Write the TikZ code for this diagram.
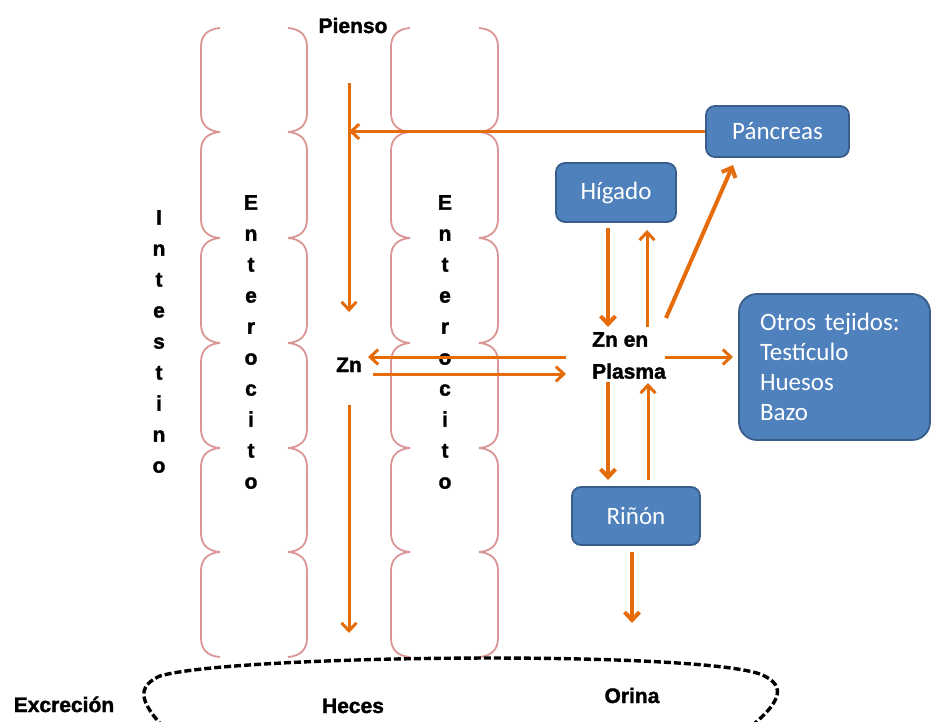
\documentclass[tikz,border=0pt]{standalone}
\usepackage{fontspec}
\setmainfont{Liberation Sans}[BoldFeatures={FakeBold=1.6}]
\newfontfamily\organfont{Carlito}
\usetikzlibrary{arrows.meta}

\definecolor{flowor}{HTML}{E46C0A}
\definecolor{cellpink}{HTML}{D99694}
\definecolor{organfill}{HTML}{4F81BD}
\definecolor{organline}{HTML}{385D8A}

\tikzset{
  flow/.style={draw=flowor, line width=3pt,
    -{Straight Barb[length=8pt,width=15pt]}},
  heavyflow/.style={flow, line width=4pt},
  organ/.style={draw=organline, fill=organfill, line width=1.8pt,
    rounded corners=9pt, text=white, inner sep=0pt,
    font=\organfont\fontsize{25}{30}\selectfont},
  tag/.style={font=\bfseries\fontsize{21}{25}\selectfont,
    inner sep=0pt, anchor=base},
  vword/.style={font=\bfseries\fontsize{21}{31}\selectfont,
    align=center, inner sep=0pt},
  cellwall/.style={draw=cellpink, line width=1.8pt},
  excretion/.style={draw=black, line width=3.4pt,
    dash pattern=on 7pt off 3pt},
}

\begin{document}
\begin{tikzpicture}[x=1pt,y=-1pt]
\useasboundingbox (0,0) rectangle (931,722);

% enterocyte columns: chains of cells with inward-pointing cusps
\foreach \xl/\xr in {201/307, 391/498}{
  \foreach \ya/\yb in {28/132, 132/238, 238/343, 343/448, 448/552, 552/657}{
    \draw[cellwall] ({\xl+19},\ya) .. controls ({\xl+6},{\ya+1}) and (\xl,{\ya+8})
      .. (\xl,{\ya+19}) -- (\xl,{\yb-19})
      .. controls (\xl,{\yb-8}) and ({\xl+6},{\yb-1}) .. ({\xl+19},\yb);
    \draw[cellwall] ({\xr-19},\ya) .. controls ({\xr-6},{\ya+1}) and (\xr,{\ya+8})
      .. (\xr,{\ya+19}) -- (\xr,{\yb-19})
      .. controls (\xr,{\yb-8}) and ({\xr-6},{\yb-1}) .. ({\xr-19},\yb);
  }
}

% vertical words
\node[vword] (intestino) at (159,341.5) {I\\n\\t\\e\\s\\t\\i\\n\\o};
\node[vword] (enteroL) at (251,342) {E\\n\\t\\e\\r\\o\\c\\i\\t\\o};
\node[vword] (enteroR) at (445,342) {E\\n\\t\\e\\r\\o\\c\\i\\t\\o};

% labels
\node[tag] (pienso) at (353,33) {Pienso};
\node[tag] (zn) at (349,372) {Zn};
\node[font=\bfseries\fontsize{21}{32}\selectfont, align=left, inner sep=0pt,
  anchor=north west] (plasma) at (592,332) {Zn en\\Plasma};
\node[tag] (excrecion) at (64,712) {Excreción};
\node[tag] (heces) at (353,713) {Heces};
\node[tag] (orina) at (632,703) {Orina};

% organs
\node[organ, minimum width=143pt, minimum height=51pt] (pancreas)
  at (777.5,131.5) {Páncreas};
\node[organ, minimum width=120pt, minimum height=59pt] (higado)
  at (616,192.5) {Hígado};
\node[organ, minimum width=128pt, minimum height=58pt] (rinon)
  at (636,516) {Riñón};
\node[organ, rounded corners=18pt, minimum height=146pt, text width=149pt,
  inner xsep=21pt, align=left] (otros)
  at (834.5,367) {Otros tejidos:\\Testículo\\Huesos\\Bazo};

% fixed points along the flows
\coordinate (lumenTop) at (349,83);
\coordinate (lumenMid) at (349,312);
\coordinate (lumenLow) at (349,405);
\coordinate (lumenEnd) at (349,633);
\coordinate (backIn) at (566,357);
\coordinate (backOut) at (368,357);
\coordinate (absIn) at (373,374);
\coordinate (absOut) at (566,374);
\coordinate (livDownA) at (608,228);
\coordinate (livDownB) at (608,327);
\coordinate (livUpA) at (647,327);
\coordinate (livUpB) at (647,230);
\coordinate (panA) at (666,318);
\coordinate (panB) at (733,165);
\coordinate (tisA) at (665,357);
\coordinate (tisB) at (733,357);
\coordinate (kidDownA) at (608,382);
\coordinate (kidDownB) at (608,480);
\coordinate (kidUpA) at (648,480);
\coordinate (kidUpB) at (648,383);
\coordinate (urineA) at (632,552);
\coordinate (urineB) at (632,623);

% flows
\draw[flow] (lumenTop) -- (lumenMid);
\draw[flow] (pancreas.west) -- (pancreas.west -| lumenTop);
\draw[flow] (backIn) -- (backOut);
\draw[flow] (absIn) -- (absOut);
\draw[flow] (lumenLow) -- (lumenEnd);
\draw[heavyflow] (livDownA) -- (livDownB);
\draw[flow] (livUpA) -- (livUpB);
\draw[heavyflow] (panA) -- (panB);
\draw[flow] (tisA) -- (tisB);
\draw[heavyflow] (kidDownA) -- (kidDownB);
\draw[flow] (kidUpA) -- (kidUpB);
\draw[heavyflow] (urineA) -- (urineB);

% excretion outline
\draw[excretion] (170,735) .. controls (150,712) and (128,690) .. (160,676)
  .. controls (230,655) and (690,650) .. (760,674)
  .. controls (790,686) and (780,705) .. (740,735);
\end{tikzpicture}
\end{document}
